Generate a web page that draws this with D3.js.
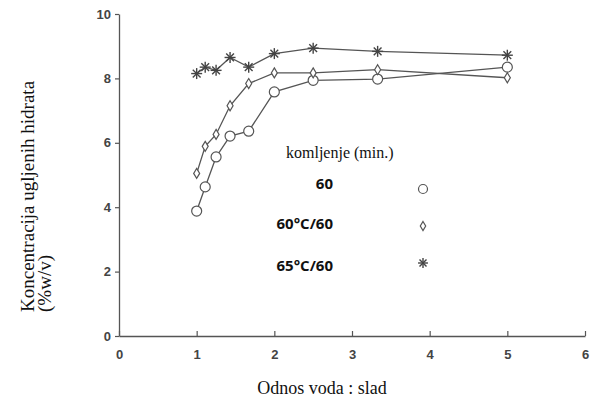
<!DOCTYPE html>
<html>
<head>
  <script src="https://d3js.org/d3.v7.min.js"></script>
  <style>
  body { margin: 0; background: #fff; }
  </style>
</head>
<body>
  <script>
  var w = 592;
  var h = 403;

  // water : malt ratios
  var ratios = [1, 1.11, 1.25, 1.43, 1.67, 2, 2.5, 3.33, 5];
  // concentration series (%w/v)
  var mash60 = [3.88, 4.63, 5.56, 6.21, 6.36, 7.58, 7.94, 7.98, 8.35];
  var mash60C = [5.05, 5.89, 6.26, 7.15, 7.84, 8.17, 8.17, 8.27, 8.02];
  var mash65C = [8.15, 8.35, 8.25, 8.65, 8.35, 8.77, 8.94, 8.84, 8.72];
  var legendLabels = ["60", "60°C/60", "65°C/60"];
  var xTicks = [0, 1, 2, 3, 4, 5, 6];
  var yTicks = [0, 2, 4, 6, 8, 10];

  var x = d3.scaleLinear().domain([0, 6]).range([119, 585]);
  var y = d3.scaleLinear().domain([0, 10]).range([336, 14]);

  var svg = d3.select("body").append("svg")
    .attr("width", w)
    .attr("height", h);

  var ink = "#555";

  //Axes
  var xAxis = svg.append("g")
    .attr("transform", "translate(0," + y(0) + ")")
    .call(d3.axisBottom(x).tickValues(xTicks).tickFormat(d3.format("d"))
      .tickSizeInner(-5).tickSizeOuter(0).tickPadding(14));
  var yAxis = svg.append("g")
    .attr("transform", "translate(" + x(0) + ",0)")
    .call(d3.axisLeft(y).tickValues(yTicks).tickFormat(d3.format("d"))
      .tickSizeInner(4).tickSizeOuter(0).tickPadding(4));

  [xAxis, yAxis].forEach(function(a){
    a.select(".domain").attr("stroke", ink).attr("stroke-width", 1.3);
    a.selectAll(".tick line").attr("stroke", ink).attr("stroke-width", 1.2);
    a.selectAll(".tick text")
      .attr("fill", "#444")
      .style("font-family", "'Liberation Sans', Arial, sans-serif")
      .style("font-weight", "bold")
      .style("font-size", "13px");
  });

  //Line series
  var line = d3.line()
    .x(function(d){ return x(d[0]); })
    .y(function(d){ return y(d[1]); });

  var series = [mash60, mash60C, mash65C];
  var shapes = ["circle", "diamond", "star"];

  series.forEach(function(vals){
    svg.append("path")
      .datum(d3.zip(ratios, vals))
      .attr("d", line)
      .attr("fill", "none")
      .attr("stroke", ink)
      .attr("stroke-width", 1.3);
  });

  //Marker drawing
  function drawMarker(g, shape, cx, cy, r){
    if(shape == "circle"){
      g.append("circle")
        .attr("cx", cx).attr("cy", cy).attr("r", r)
        .attr("fill", "#fff").attr("stroke", ink).attr("stroke-width", 1.2);
    } else if(shape == "diamond"){
      g.append("path")
        .attr("d", "M" + cx + "," + (cy - r) + "L" + (cx + r * 0.6) + "," + cy + "L" + cx + "," + (cy + r) + "L" + (cx - r * 0.6) + "," + cy + "Z")
        .attr("fill", "#fff").attr("stroke", ink).attr("stroke-width", 1.2);
    } else {
      var s = r * 1.1;
      for(var i = 0; i < 4; i++){
        var a = i * Math.PI / 4;
        g.append("line")
          .attr("x1", cx - s * Math.cos(a)).attr("y1", cy - s * Math.sin(a))
          .attr("x2", cx + s * Math.cos(a)).attr("y2", cy + s * Math.sin(a))
          .attr("stroke", "#444").attr("stroke-width", 1.4);
      }
    }
  }

  var marks = svg.append("g");
  series.forEach(function(vals, s){
    vals.forEach(function(v, i){
      drawMarker(marks, shapes[s], x(ratios[i]), y(v), 5);
    });
  });

  //Legend
  svg.append("text")
    .attr("x", 286).attr("y", 158)
    .style("font-family", "'Liberation Serif', 'Times New Roman', serif")
    .style("font-size", "16px")
    .attr("fill", "#111")
    .text("komljenje (min.)");

  var textY = [189, 229, 271];
  var markY = [189, 226, 263];
  legendLabels.forEach(function(t, i){
    svg.append("text")
      .attr("x", 333).attr("y", textY[i])
      .attr("text-anchor", "end")
      .style("font-family", "'Open Sans', sans-serif")
      .style("font-weight", "bold")
      .style("font-size", "15px")
      .attr("fill", "#111")
      .text(t);
    drawMarker(svg, shapes[i], 423, markY[i], 4.5);
  });

  //Axis titles
  svg.append("text")
    .attr("x", 322).attr("y", 394)
    .attr("text-anchor", "middle")
    .style("font-family", "'Liberation Serif', 'Times New Roman', serif")
    .style("font-size", "18px")
    .attr("fill", "#111")
    .text("Odnos voda : slad");

  var yTitle = svg.append("text")
    .attr("transform", "translate(34,312) rotate(-90)")
    .style("font-family", "'Liberation Serif', 'Times New Roman', serif")
    .style("font-size", "19px")
    .attr("fill", "#111");
  yTitle.append("tspan").attr("x", 0).attr("y", 0).text("Koncentracija ugljenih hidrata");
  yTitle.append("tspan").attr("x", 0).attr("y", 17).text("(%w/v)");
  </script>
</body>
</html>
